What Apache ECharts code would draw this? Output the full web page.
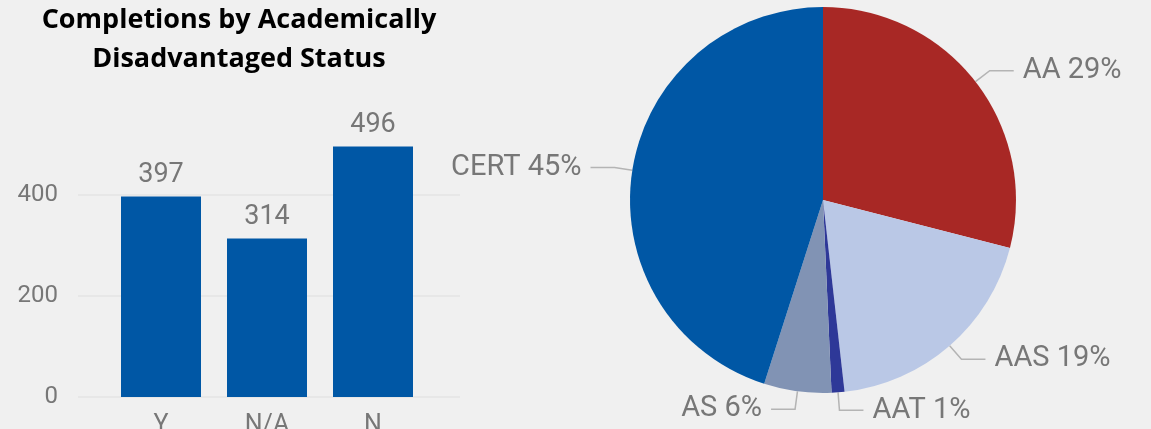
<!DOCTYPE html>
<html>
<head>
<meta charset="utf-8">
<script src="https://cdn.jsdelivr.net/npm/echarts@6/dist/echarts.min.js"></script>
<style>
html,body{margin:0;padding:0;background:#f0f0f0;}
#c{width:1151px;height:429px;}
</style>
</head>
<body>
<div id="c"></div>
<script>
const barCategories = ['Y', 'N/A', 'N'];
const barValues = [397, 314, 496];
const yTicks = [0, 200, 400];
const pieNames = ['AA', 'AAS', 'AAT', 'AS', 'CERT'];
const pieValues = [350, 232, 13, 68, 544];
const pieColors = ['#A82825', '#BAC8E6', '#2E3898', '#8193B4', '#0057A5'];
const titleText = 'Completions by Academically\nDisadvantaged Status';

const chart = echarts.init(document.getElementById('c'), null, {renderer: 'canvas'});
const gray = '#777777';
const font = 'Roboto';
chart.setOption({
  backgroundColor: '#f0f0f0',
  animation: false,
  title: {
    text: titleText,
    left: 239, top: 1, textAlign: 'center', padding: 0,
    textStyle: {fontFamily: 'Open Sans', fontWeight: 'bold', fontSize: 27, lineHeight: 39, color: '#000'}
  },
  grid: [
    {left: 78, width: 382, top: 94, bottom: 32, outerBoundsMode: 'none', containLabel: false},
    {left: 108, width: 318, top: 94, bottom: 32, outerBoundsMode: 'none', containLabel: false}
  ],
  xAxis: [
    {gridIndex: 0, type: 'value', show: false, min: 0, max: 1},
    {gridIndex: 1, type: 'category', data: barCategories,
     axisLine: {show: false}, axisTick: {show: false},
     axisLabel: {color: gray, fontFamily: font, fontSize: 25, margin: 16}}
  ],
  yAxis: [
    {gridIndex: 0, type: 'value', min: 0, max: 600, interval: 200,
     axisLine: {show: false}, axisTick: {show: false},
     axisLabel: {color: gray, fontFamily: font, fontSize: 24, margin: 20,
       formatter: v => yTicks.includes(v) ? String(v) : ''},
     splitLine: {lineStyle: {color: ['#e4e4e4', '#e4e4e4', '#e4e4e4', 'rgba(0,0,0,0)'], width: 1.5}}},
    {gridIndex: 1, type: 'value', min: 0, max: 600, interval: 200, show: false, splitLine: {show: false}}
  ],
  series: [
    {type: 'bar', xAxisIndex: 1, yAxisIndex: 1, data: barValues, barWidth: 80,
     itemStyle: {color: '#0057A5'},
     label: {show: true, position: 'top', distance: 8, color: gray, fontFamily: font, fontSize: 27}},
    {type: 'pie', center: [823, 200], radius: 193, startAngle: 90, clockwise: true,
     percentPrecision: 0,
     data: pieNames.map((n, i) => ({name: n, value: pieValues[i], itemStyle: {color: pieColors[i]}})),
     label: {show: true, position: 'outside', formatter: '{b} {d}%', color: gray, fontFamily: font, fontSize: 29,
       distanceToLabelLine: 9},
     labelLine: {show: true, length: 18, length2: 24, lineStyle: {color: '#b4b4b4', width: 1.5}},
     emphasis: {disabled: true}
    }
  ]
});
</script>
</body>
</html>
